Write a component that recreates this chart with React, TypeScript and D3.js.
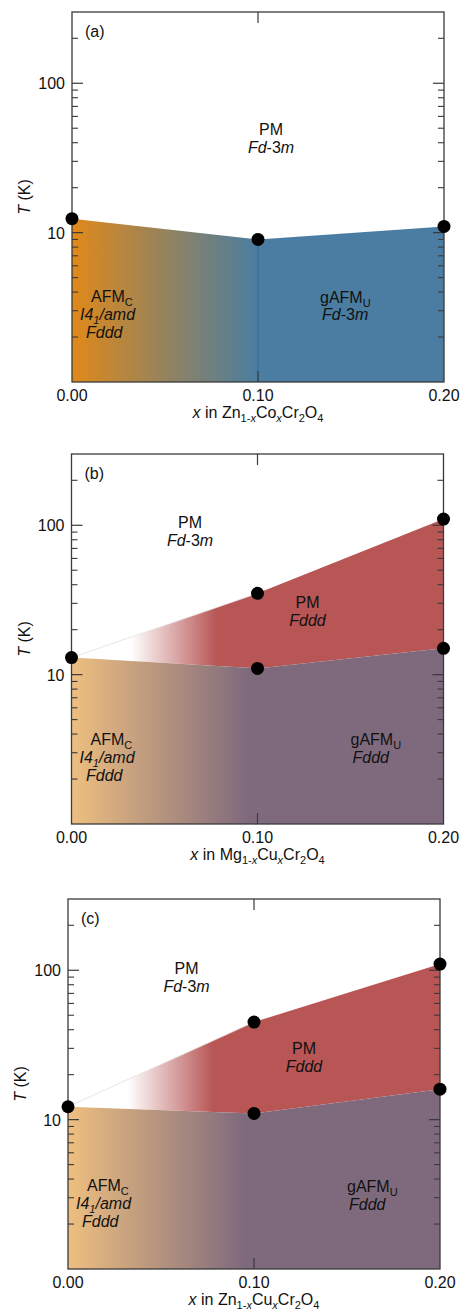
import React from "react";
import * as d3 from "d3";

// Compositions and transition temperatures (K)
const compositions = [0, 0.1, 0.2];
const xTickValues = [0, 0.1, 0.2];
const xTickLabels = ["0.00", "0.10", "0.20"];
const yMajorTicks = [10, 100];
const yTickLabels = ["10", "100"];

// (a) Zn1-xCoxCr2O4: Néel temperatures
const coNeel = [12.4, 9, 11];
// (b) Mg1-xCuxCr2O4: Néel and structural transition temperatures
const mgCuNeel = [13, 11, 15];
const mgCuStructural = [13, 35, 110];
// (c) Zn1-xCuxCr2O4: Néel and structural transition temperatures
const znCuNeel = [12.2, 11, 16];
const znCuStructural = [12.2, 45, 110];

const W = 372;
const H = 370;
const FONT = "'Liberation Sans', Arial, Helvetica, sans-serif";
const SUB_DY = 3.5;

const xScale = d3.scaleLinear().domain([0, 0.2]).range([0, W]);
const yScale = d3.scaleLog().domain([1, 300]).range([H, 0]);

const minorTicks: number[] = [];
[1, 10, 100].forEach((dec) => {
  for (let m = 2; m <= 9; m++) {
    const v = m * dec;
    if (v < 300) minorTicks.push(v);
  }
});

type Pt = { x: number; t: number };
const zipPts = (ts: number[]): Pt[] => compositions.map((x, i) => ({ x, t: ts[i] }));

const lowerArea = d3
  .area<Pt>()
  .x((d) => xScale(d.x))
  .y0(H)
  .y1((d) => yScale(d.t));

const bandArea = d3
  .area<{ x: number; lo: number; hi: number }>()
  .x((d) => xScale(d.x))
  .y0((d) => yScale(d.lo))
  .y1((d) => yScale(d.hi));

const edgeLine = d3
  .line<Pt>()
  .x((d) => xScale(d.x))
  .y((d) => yScale(d.t));

// Rich text: segments with optional italic / subscript styling
type Seg = { t: string; it?: boolean; sub?: boolean };

function rich(segs: Seg[]) {
  let level = 0;
  return segs.map((s, i) => {
    const target = s.sub ? SUB_DY : 0;
    const dy = target - level;
    level = target;
    return (
      <tspan
        key={i}
        dy={dy !== 0 ? dy : undefined}
        fontSize={s.sub ? 11 : undefined}
        fontStyle={s.it ? "italic" : "normal"}
      >
        {s.t}
      </tspan>
    );
  });
}

const AFM_C: Seg[] = [{ t: "AFM" }, { t: "C", sub: true }];
const GAFM_U: Seg[] = [{ t: "gAFM" }, { t: "U", sub: true }];
const I41AMD: Seg[] = [
  { t: "I", it: true },
  { t: "4", it: true },
  { t: "1", sub: true, it: true },
  { t: "/amd", it: true },
];
const FD3M: Seg[] = [{ t: "Fd", it: true }, { t: "-3" }, { t: "m", it: true }];
const FDDD: Seg[] = [{ t: "Fddd", it: true }];
const PM: Seg[] = [{ t: "PM" }];

type Label = { x: number; y: number; anchor?: string; lines: Seg[][] };

function TextBlock({ x, y, lines, anchor = "start" }: Label) {
  return (
    <g>
      {lines.map((ln, i) => (
        <text
          key={i}
          x={x}
          y={y + i * 18}
          textAnchor={anchor as any}
          fontSize={16}
          fontFamily={FONT}
          fill="#111"
        >
          {rich(ln)}
        </text>
      ))}
    </g>
  );
}

type PanelProps = {
  id: string;
  left: number;
  top: number;
  neel: number[];
  structural?: number[];
  lowStart: string;
  lowEnd: string;
  lowEndX: number;
  title: Seg[];
  labels: Label[];
  seam?: boolean;
};

function Panel(p: PanelProps) {
  const neelPts = zipPts(p.neel);
  const band = p.structural
    ? compositions.map((x, i) => ({ x, lo: p.neel[i], hi: p.structural![i] }))
    : null;
  const structPts = p.structural ? zipPts(p.structural) : [];
  const gLow = `low-${p.id}`;
  const gRed = `red-${p.id}`;
  const axisColor = "#3a3a3a";
  return (
    <g transform={`translate(${p.left},${p.top})`}>
      <defs>
        <linearGradient
          id={gLow}
          gradientUnits="userSpaceOnUse"
          x1={xScale(0)}
          x2={xScale(p.lowEndX)}
          y1={0}
          y2={0}
        >
          <stop offset="0" stopColor={p.lowStart} />
          <stop offset="1" stopColor={p.lowEnd} />
        </linearGradient>
        <linearGradient
          id={gRed}
          gradientUnits="userSpaceOnUse"
          x1={xScale(0.032)}
          x2={xScale(0.078)}
          y1={0}
          y2={0}
        >
          <stop offset="0" stopColor="#b85656" stopOpacity={0} />
          <stop offset="1" stopColor="#b85656" stopOpacity={1} />
        </linearGradient>
      </defs>

      {band && <path d={bandArea(band) || ""} fill={`url(#${gRed})`} />}
      {band && (
        <path
          d={edgeLine(structPts.slice(0, 2)) || ""}
          fill="none"
          stroke="#e6dede"
          strokeWidth={0.8}
        />
      )}
      <path d={lowerArea(neelPts) || ""} fill={`url(#${gLow})`} />
      {p.seam && (
        <line
          x1={xScale(0.1)}
          x2={xScale(0.1)}
          y1={yScale(p.neel[1])}
          y2={H}
          stroke="#3a6d96"
          strokeWidth={1.5}
          opacity={0.7}
        />
      )}

      {/* frame */}
      <rect x={0} y={0} width={W} height={H} fill="none" stroke={axisColor} strokeWidth={1.3} />

      {/* y ticks on both sides, pointing inward */}
      {yMajorTicks.map((v) => (
        <g key={`M${v}`}>
          <line x1={0} x2={11} y1={yScale(v)} y2={yScale(v)} stroke={axisColor} strokeWidth={1.2} />
          <line x1={W - 11} x2={W} y1={yScale(v)} y2={yScale(v)} stroke={axisColor} strokeWidth={1.2} />
        </g>
      ))}
      {minorTicks.map((v) => (
        <g key={`m${v}`}>
          <line x1={0} x2={6} y1={yScale(v)} y2={yScale(v)} stroke={axisColor} strokeWidth={1.1} />
          <line x1={W - 6} x2={W} y1={yScale(v)} y2={yScale(v)} stroke={axisColor} strokeWidth={1.1} />
        </g>
      ))}
      {/* x ticks at the middle composition, top and bottom */}
      <line x1={xScale(0.1)} x2={xScale(0.1)} y1={0} y2={11} stroke={axisColor} strokeWidth={1.2} />
      <line x1={xScale(0.1)} x2={xScale(0.1)} y1={H - 11} y2={H} stroke={axisColor} strokeWidth={1.2} />

      {yMajorTicks.map((v, i) => (
        <text
          key={`yl${v}`}
          x={-7}
          y={yScale(v) + 6}
          textAnchor="end"
          fontSize={16}
          fontFamily={FONT}
          fill="#111"
        >
          {yTickLabels[i]}
        </text>
      ))}
      {xTickValues.map((v, i) => (
        <text
          key={`xl${v}`}
          x={xScale(v)}
          y={H + 19}
          textAnchor="middle"
          fontSize={16}
          fontFamily={FONT}
          fill="#111"
        >
          {xTickLabels[i]}
        </text>
      ))}

      <text
        transform={`translate(${-42},${H / 2}) rotate(-90)`}
        textAnchor="middle"
        fontSize={16}
        fontFamily={FONT}
        fill="#111"
      >
        {rich([{ t: "T", it: true }, { t: " (K)" }])}
      </text>
      <text x={W / 2} y={H + 36} textAnchor="middle" fontSize={16} fontFamily={FONT} fill="#111">
        {rich(p.title)}
      </text>

      <text x={13} y={25} fontSize={16} fontFamily={FONT} fill="#111">
        ({p.id})
      </text>

      {p.labels.map((l, i) => (
        <TextBlock key={i} {...l} />
      ))}

      {neelPts.map((d, i) => (
        <circle key={`n${i}`} cx={xScale(d.x)} cy={yScale(d.t)} r={6.5} fill="#000" />
      ))}
      {structPts.slice(1).map((d, i) => (
        <circle key={`s${i}`} cx={xScale(d.x)} cy={yScale(d.t)} r={6.5} fill="#000" />
      ))}
    </g>
  );
}

const formula = (a: string, b: string): Seg[] => [
  { t: "x", it: true },
  { t: ` in ${a}` },
  { t: "1-", sub: true },
  { t: "x", sub: true, it: true },
  { t: b },
  { t: "x", sub: true, it: true },
  { t: "Cr" },
  { t: "2", sub: true },
  { t: "O" },
  { t: "4", sub: true },
];

export default function App() {
  return (
    <svg
      width={463}
      height={1314}
      style={{ position: "absolute", left: 0, top: 0, background: "#fff" }}
    >
      <Panel
        id="a"
        left={72}
        top={12}
        neel={coNeel}
        lowStart="#e0891a"
        lowEnd="#4a7da1"
        lowEndX={0.1}
        seam
        title={formula("Zn", "Co")}
        labels={[
          { x: 199, y: 123, anchor: "middle", lines: [PM, FD3M] },
          { x: 19, y: 290, lines: [AFM_C] },
          { x: 8, y: 308, lines: [I41AMD] },
          { x: 14, y: 326, lines: [FDDD] },
          { x: 248, y: 291, lines: [GAFM_U] },
          { x: 250, y: 308, lines: [FD3M] },
        ]}
      />
      <Panel
        id="b"
        left={71.5}
        top={454}
        neel={mgCuNeel}
        structural={mgCuStructural}
        lowStart="#eebf80"
        lowEnd="#7f6a7d"
        lowEndX={0.095}
        title={formula("Mg", "Cu")}
        labels={[
          { x: 118.5, y: 74, anchor: "middle", lines: [PM, FD3M] },
          { x: 236, y: 154, anchor: "middle", lines: [PM, FDDD] },
          { x: 19, y: 291, lines: [AFM_C] },
          { x: 8, y: 309, lines: [I41AMD] },
          { x: 14.5, y: 327, lines: [FDDD] },
          { x: 279, y: 291, lines: [GAFM_U] },
          { x: 281, y: 309, lines: [FDDD] },
        ]}
      />
      <Panel
        id="c"
        left={68}
        top={899}
        neel={znCuNeel}
        structural={znCuStructural}
        lowStart="#eebf80"
        lowEnd="#7f6a7d"
        lowEndX={0.095}
        title={formula("Zn", "Cu")}
        labels={[
          { x: 118.5, y: 75, anchor: "middle", lines: [PM, FD3M] },
          { x: 236, y: 155, anchor: "middle", lines: [PM, FDDD] },
          { x: 19, y: 292, lines: [AFM_C] },
          { x: 8, y: 310, lines: [I41AMD] },
          { x: 14, y: 328, lines: [FDDD] },
          { x: 279, y: 293, lines: [GAFM_U] },
          { x: 281, y: 311, lines: [FDDD] },
        ]}
      />
    </svg>
  );
}
